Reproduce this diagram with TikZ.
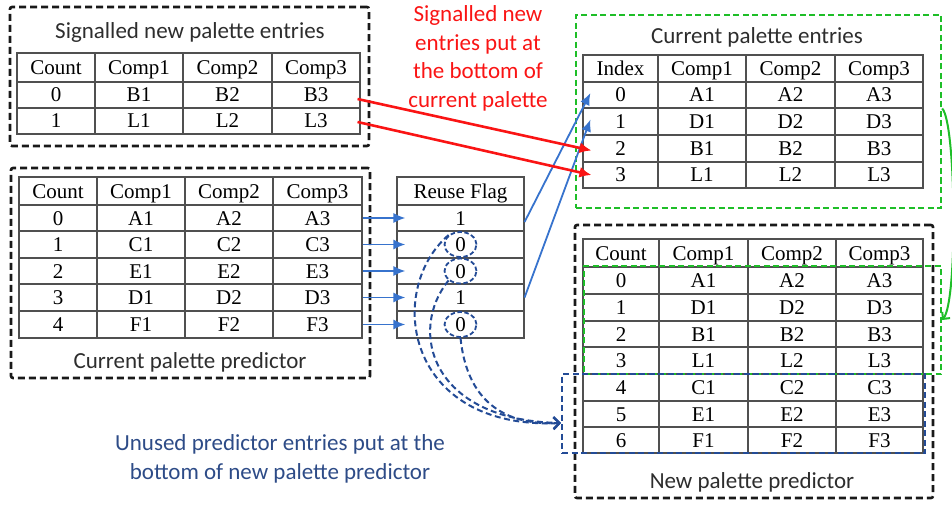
\documentclass[tikz,border=0pt]{standalone}
\usepackage{fontspec}
\setmainfont{Liberation Serif}
\newfontfamily\lblfont{Carlito}
\usetikzlibrary{arrows.meta,shapes.geometric}

\definecolor{gridline}{RGB}{80,80,80}
\definecolor{boxblack}{RGB}{25,25,25}
\definecolor{boxgreen}{RGB}{30,190,40}
\definecolor{boxnavy}{RGB}{35,75,150}
\definecolor{arrblue}{RGB}{55,115,205}
\definecolor{arrred}{RGB}{250,20,20}
\definecolor{txtblue}{RGB}{45,75,135}
\definecolor{txtgray}{RGB}{45,45,45}

\tikzset{
  cell/.style={draw=gridline, line width=1.1pt, inner sep=0pt,
    font=\fontsize{21}{25}\selectfont, text=black,
    text height=14pt, text depth=0pt},
  blackbox/.style={draw=boxblack, line width=2.6pt, dash pattern=on 7pt off 4pt, rounded corners=2pt},
  greenbox/.style={draw=boxgreen, line width=2.3pt, dash pattern=on 6pt off 3.5pt},
  navybox/.style={draw=boxnavy, line width=2.2pt, dash pattern=on 6pt off 3.5pt},
  title/.style={font=\lblfont\fontsize{23}{28}\selectfont, text=txtgray, inner sep=0pt},
  note/.style={font=\lblfont\fontsize{23}{28.5}\selectfont, align=center, inner sep=0pt},
  bluearrow/.style={draw=arrblue, line width=1.8pt, -{Latex[length=12pt,width=10pt]}},
  redarrow/.style={draw=arrred, line width=2.6pt, -{Latex[length=12pt,width=11pt]}},
  navydash/.style={draw=boxnavy, line width=2pt, dash pattern=on 6pt off 3.5pt,
    -{Straight Barb[length=6pt,width=12pt,line width=2pt]}},
  ring/.style={ellipse, draw=boxnavy, line width=1.8pt, dash pattern=on 4.5pt off 2.5pt,
    minimum width=32pt, minimum height=25pt, inner sep=0pt},
  greenarrow/.style={draw=boxgreen, line width=2pt,
    -{Straight Barb[length=5pt,width=10pt,line width=2pt]}},
}

% one table cell: name, x-left, x-right, y-top, y-bottom, text
\newcommand\tcell[6]{\node[cell, minimum width={(#3-#2)*1pt}, minimum height={(#5-#4)*1pt}]
  (#1) at ({(#2+#3)/2},{(#4+#5)/2}) {#6};}
% column borders of the table being built
\newcommand\setcols[5]{\def\cxa{#1}\def\cxb{#2}\def\cxc{#3}\def\cxd{#4}\def\cxe{#5}}
% one four-column row: prefix, row id, y-top, y-bottom, four texts
\newcommand\trow[8]{%
  \tcell{#1-#2-1}{\cxa}{\cxb}{#3}{#4}{#5}%
  \tcell{#1-#2-2}{\cxb}{\cxc}{#3}{#4}{#6}%
  \tcell{#1-#2-3}{\cxc}{\cxd}{#3}{#4}{#7}%
  \tcell{#1-#2-4}{\cxd}{\cxe}{#3}{#4}{#8}}
% dashed frame: style, name, x1, y1, x2, y2
\newcommand\boxnode[6]{\node[#1, minimum width={(#5-#3)*1pt}, minimum height={(#6-#4)*1pt}, inner sep=0pt]
  (#2) at ({(#3+#5)/2},{(#4+#6)/2}) {};}

\begin{document}
\begin{tikzpicture}[x=1pt, y=-1pt]
\useasboundingbox (0,0) rectangle (952,505);

% signalled new palette entries
\setcols{17}{95}{183}{272}{360}
\trow{sa}{h}{53}{82}{Count}{Comp1}{Comp2}{Comp3}
\trow{sa}{0}{82}{108}{0}{B1}{B2}{B3}
\trow{sa}{1}{108}{134}{1}{L1}{L2}{L3}

% current palette predictor
\setcols{19}{97}{185}{273}{362}
\trow{sb}{h}{177}{205}{Count}{Comp1}{Comp2}{Comp3}
\trow{sb}{0}{205}{231}{0}{A1}{A2}{A3}
\trow{sb}{1}{231}{258}{1}{C1}{C2}{C3}
\trow{sb}{2}{258}{284}{2}{E1}{E2}{E3}
\trow{sb}{3}{284}{311}{3}{D1}{D2}{D3}
\trow{sb}{4}{311}{338}{4}{F1}{F2}{F3}

% reuse flags
\tcell{rf-h}{397}{524}{177}{205}{Reuse Flag}
\tcell{rf-0}{397}{524}{205}{231}{1}
\tcell{rf-1}{397}{524}{231}{258}{0}
\tcell{rf-2}{397}{524}{258}{284}{0}
\tcell{rf-3}{397}{524}{284}{311}{1}
\tcell{rf-4}{397}{524}{311}{338}{0}

% current palette entries
\setcols{583}{658}{746}{835}{923}
\trow{ce}{h}{55}{82}{Index}{Comp1}{Comp2}{Comp3}
\trow{ce}{0}{82}{108}{0}{A1}{A2}{A3}
\trow{ce}{1}{108}{135}{1}{D1}{D2}{D3}
\trow{ce}{2}{135}{162}{2}{B1}{B2}{B3}
\trow{ce}{3}{162}{188}{3}{L1}{L2}{L3}

% new palette predictor
\setcols{583}{659}{748}{836}{923}
\trow{np}{h}{239}{267}{Count}{Comp1}{Comp2}{Comp3}
\trow{np}{0}{267}{294}{0}{A1}{A2}{A3}
\trow{np}{1}{294}{321}{1}{D1}{D2}{D3}
\trow{np}{2}{321}{347}{2}{B1}{B2}{B3}
\trow{np}{3}{347}{374}{3}{L1}{L2}{L3}
\trow{np}{4}{374}{401}{4}{C1}{C2}{C3}
\trow{np}{5}{401}{427}{5}{E1}{E2}{E3}
\trow{np}{6}{427}{453}{6}{F1}{F2}{F3}

% dashed frames
\boxnode{blackbox}{bx-sig}{10}{7}{369}{146}
\boxnode{blackbox}{bx-pred}{11}{168}{370}{378}
\boxnode{greenbox}{bx-cur}{576}{15}{941}{208}
\boxnode{blackbox}{bx-new}{575}{225}{933}{498}
\boxnode{greenbox}{bx-green}{584}{266}{941}{374}
\boxnode{navybox}{bx-navy}{562}{374}{925}{453}

% captions
\node[title] (t-sig) at (190,32) {Signalled new palette entries};
\node[title] (t-pred) at (190,362) {Current palette predictor};
\node[title] (t-cur) at (757,37) {Current palette entries};
\node[title] (t-new) at (752,482) {New palette predictor};
\node[note, text=arrred] (n-red) at (478,58.5) {Signalled new\\entries put at\\the bottom of\\current palette};
\node[note, text=txtblue] (n-blue) at (280,459) {Unused predictor entries put at the\\bottom of new palette predictor};

% predictor entries checked against reuse flags
\foreach \r in {0,...,4}{
  \draw[bluearrow] (sb-\r-4.east) -- ([xshift=9pt]rf-\r.west);
}

% reused entries go to the top of the current palette
\draw[bluearrow] ([yshift=-4pt]rf-0.east) -- ([xshift=8pt,yshift=2pt]ce-0-1.west);
\draw[bluearrow] (rf-3.east) -- ([xshift=8pt,yshift=2pt]ce-1-1.west);

% signalled entries go to the bottom of the current palette
\draw[redarrow] ([xshift=-3pt,yshift=-4pt]sa-0-4.east) -- ([xshift=9pt,yshift=-2pt]ce-2-1.west);
\draw[redarrow] ([xshift=-3pt,yshift=-1pt]sa-1-4.east) -- ([xshift=9pt]ce-3-1.west);

% unused entries marked and moved to the bottom of the new predictor
\node[ring] (ring1) at (rf-1.center) {};
\node[ring] (ring2) at (rf-2.center) {};
\node[ring] (ring4) at (rf-4.center) {};
\coordinate (dtip) at ([yshift=-9.5pt]bx-navy.west);
\draw[navydash] (ring1.north west) .. controls (385,290) and (405,430) .. (dtip);
\draw[navydash] (ring2.south west) .. controls (408,330) and (430,420) .. (dtip);
\draw[navydash] (ring4.south) .. controls (466,392) and (495,426) .. (dtip);

% current palette becomes the head of the new predictor
\draw[greenarrow] ([yshift=3pt]bx-cur.east) .. controls (956,122) and (958,300) .. (bx-green.east);
\end{tikzpicture}
\end{document}
